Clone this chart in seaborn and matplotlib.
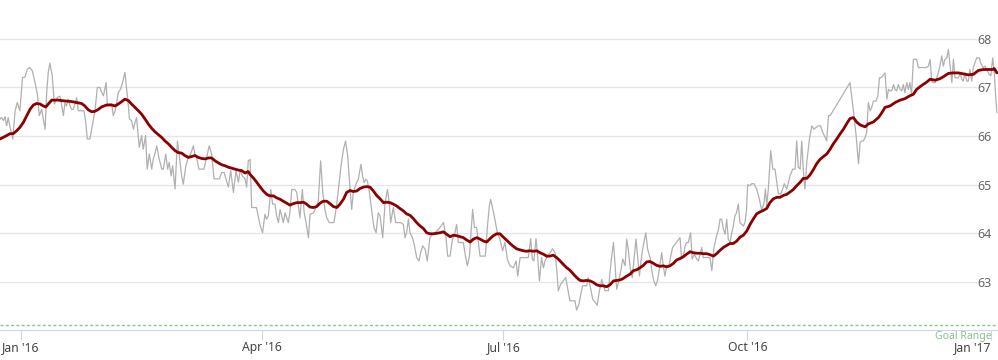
import matplotlib
matplotlib.use("Agg")
import matplotlib.pyplot as plt
import seaborn as sns
import pandas as pd
import numpy as np

# ---------------- data ----------------
# day offsets from 2016-01-01 and values
daily_day = [
    -7.8, -7.2, -6.5, -5.9, -5.3, -4.7, -4.0, -3.0, -2.1, -1.3, -0.3, 0.7, 1.6, 2.5, 3.5, 4.4, 5.4, 6.3, 7.0, 7.9,
    8.3, 9.2, 9.8, 10.4, 11.0, 11.9, 12.7, 13.3, 13.8, 14.8, 15.4, 16.1, 16.7, 17.3, 17.9, 18.6, 19.2, 19.8, 20.5, 21.1,
    21.7, 23.0, 23.9, 24.6, 25.1, 26.1, 27.1, 28.0, 28.9, 29.9, 30.5, 31.2, 32.2, 32.7, 33.4, 34.3, 34.9, 35.6, 36.2, 36.8,
    37.7, 38.4, 39.3, 39.9, 40.6, 41.0, 41.8, 42.5, 43.1, 43.7, 44.7, 45.6, 46.2, 47.1, 47.7, 48.5, 49.4, 50.0, 50.6, 51.3,
    52.1, 53.2, 53.8, 54.7, 55.4, 56.0, 56.7, 57.3, 58.2, 59.1, 59.8, 60.7, 61.3, 62.3, 63.2, 64.1, 65.1, 65.7, 66.3, 67.2,
    68.2, 69.1, 70.1, 71.1, 72.0, 72.9, 73.9, 74.9, 75.8, 76.7, 77.4, 78.3, 79.2, 80.2, 81.2, 82.1, 82.7, 83.6, 84.6, 85.2,
    85.8,
    86.5, 87.1, 88.9, 90.2, 91.2, 92.1, 92.7, 93.4, 94.3, 95.0, 95.9, 96.5, 97.2, 97.8, 98.4, 99.0, 99.7, 100.3, 100.9, 101.5,
    102.2, 103.4, 104.1, 104.7, 105.3, 106.2, 106.9, 107.6, 108.5, 109.1, 110.4, 111.0, 112.2, 113.1, 113.9, 114.7, 115.4, 116.3, 117.3, 118.1,
    118.9, 119.8, 120.7, 121.7, 122.5, 123.3, 124.2, 124.8, 125.4, 126.4, 127.3, 128.3, 128.9, 129.5, 130.1, 130.7, 131.5, 132.3, 133.2, 134.0,
    134.8, 135.5, 136.5, 137.4, 138.3, 139.0, 139.5, 140.5, 141.4, 142.4, 143.3, 144.3, 144.9, 145.5, 146.2, 146.8, 147.7, 148.4, 149.3, 150.2,
    150.8, 151.6, 152.5, 153.3, 154.3, 155.3, 156.2, 157.5, 158.5, 159.4, 160.3, 161.0, 161.9, 162.8, 163.5, 164.4, 165.0, 165.9, 166.9, 167.7,
    168.4, 169.2, 169.8, 170.4, 171.1, 171.9, 172.6, 173.2, 174.5, 175.2, 176.0, 176.7, 177.2, 178.0, 178.8, 179.7, 180.7,
    181.7, 182.6, 183.5, 184.5, 185.8, 186.8, 187.4, 188.3, 189.3, 190.5, 191.4, 192.3, 192.9, 193.5, 194.3, 194.9, 195.6, 196.4, 197.1, 197.7,
    198.6, 199.6, 200.5, 201.5, 202.1, 202.7, 203.6, 204.6, 205.5, 206.3, 207.1, 208.1, 209.0, 209.6, 210.5, 211.2, 211.9, 212.8, 213.4, 214.0,
    214.7, 215.7, 216.6, 217.4, 218.1, 219.1, 219.7, 220.3, 221.6, 222.2, 222.8, 223.5, 224.1, 224.7, 225.4, 226.3, 227.0, 227.9, 228.5, 229.1,
    229.8, 230.6, 231.4, 232.0, 232.6, 233.3, 233.9, 234.5, 235.0, 235.7, 236.4, 237.3, 237.9, 238.6, 239.4, 240.1, 240.8, 241.7, 242.3, 242.9,
    243.6, 244.5, 245.1, 245.8, 246.7, 247.6, 248.6, 249.2, 249.9, 250.5, 251.1, 251.7, 252.6, 253.2, 254.0, 254.9, 255.5, 256.2, 256.8, 257.4,
    258.4, 259.9, 260.6, 261.4, 262.4, 263.1, 263.7, 264.3, 265.0, 265.6, 266.2, 266.8, 267.5, 268.1, 268.7, 269.3, 269.9, 270.6, 271.2, 272.5,
    273.1, 273.7, 274.1,
    275.0, 275.6, 276.5, 277.5, 278.5, 279.4, 280.3, 280.8, 281.3, 281.9, 282.8, 283.6, 284.4, 285.1, 285.7, 286.6, 287.3, 287.9, 288.8, 289.5,
    290.1, 291.1, 292.0, 292.6, 293.2, 293.9, 294.5, 295.1, 295.7, 296.4, 297.4, 298.3, 299.1, 299.9, 300.8, 301.6, 302.4, 303.3, 303.9, 304.6,
    305.2, 312.7, 313.3, 314.2, 315.0, 315.9, 316.5, 317.1, 317.7, 318.4, 319.0, 319.6, 320.3, 320.9, 321.5, 322.5, 323.2, 323.8, 324.4, 325.1,
    325.9, 326.6, 327.2, 327.8, 328.4, 329.1, 329.7, 330.3, 330.9, 331.6, 332.2, 332.8, 333.4, 334.1, 334.7, 335.3, 335.9, 336.6, 337.2, 337.8,
    338.5, 339.4, 340.4, 341.4, 342.3, 342.9, 343.5, 344.1, 344.8, 345.4, 346.0, 346.6, 347.3, 347.9, 348.5, 349.2, 349.8, 350.4, 351.1, 351.7,
    352.3, 352.9, 353.6, 354.2, 354.8, 355.4, 356.1, 356.7, 357.3, 357.9, 358.6, 359.2, 359.8, 360.5, 361.5, 361.9, 362.9, 363.6, 364.2, 365.2,
    365.8, 366.5, 367.1, 367.6, 368.1,
]
daily_value = [
    66.35, 66.38, 66.32, 66.40, 66.21, 66.38, 66.18, 65.94, 66.52, 66.69, 66.52, 67.21, 67.21, 67.38, 67.41, 67.34, 67.10, 66.86, 66.42, 66.55,
    66.42, 66.14, 66.90, 67.31, 67.50, 67.24, 66.66, 66.73, 66.79, 66.82, 66.66, 66.42, 66.69, 66.62, 66.76, 66.62, 66.55, 66.55, 66.66, 66.79,
    66.52, 66.52, 66.52, 66.25, 65.94, 65.94, 66.25, 66.52, 67.00, 67.00, 66.90, 66.83, 67.10, 66.62, 66.66, 66.66, 66.42, 66.52, 66.69, 66.90,
    66.97, 67.10, 67.31, 67.00, 66.62, 66.35, 66.32, 66.14, 66.28, 66.38, 65.77, 66.01, 65.73, 66.01, 65.32, 65.63, 65.32, 65.53, 65.63, 65.80,
    65.56, 65.32, 65.32, 65.63, 65.32, 65.46, 65.18, 65.39, 64.91, 65.90, 65.60, 65.18, 65.01, 65.39, 65.56, 65.63, 65.80, 65.63, 65.56, 65.32,
    65.32, 65.32, 65.56, 65.80, 65.63, 65.12, 65.12, 65.12, 65.25, 65.25, 65.12, 64.95, 65.29, 64.84, 65.29, 65.05, 65.29, 65.18, 65.12, 64.95,
    65.49,
    65.52, 64.53, 64.53, 64.18, 64.01, 64.39, 64.29, 64.36, 64.90, 64.60, 64.60, 64.36, 64.22, 64.49, 64.36, 64.22, 64.42, 64.32, 64.22, 64.42,
    64.90, 64.90, 64.84, 64.56, 64.32, 64.90, 64.42, 64.22, 63.91, 64.39, 64.42, 64.49, 64.66, 65.49, 64.84, 64.49, 64.32, 64.22, 64.22, 64.22,
    64.49, 64.90, 65.35, 65.73, 65.90, 65.59, 64.90, 64.49, 64.84, 65.01, 65.11, 65.42, 65.18, 65.04, 65.11, 65.08, 64.84, 64.49, 64.12, 64.01,
    64.42, 64.36, 63.91, 64.63, 64.90, 64.60, 64.22, 64.53, 64.22, 64.22, 64.22, 64.18, 63.91, 64.01, 64.29, 64.01, 63.91, 63.77, 63.50, 63.43,
    63.60, 63.74, 63.67, 63.43, 63.91, 63.98, 64.01, 64.08, 64.15, 64.22, 63.95, 63.53, 63.53, 63.88, 63.95, 64.18, 63.81, 63.81, 63.81, 63.53,
    63.33, 63.53, 64.01, 64.49, 64.12, 64.12, 63.81, 63.53, 63.53, 63.53, 64.15, 64.56, 64.70, 64.49, 64.29, 64.01, 63.88,
    63.64, 63.81, 63.47, 63.33, 63.29, 63.43, 63.12, 63.50, 63.50, 63.50, 63.50, 63.89, 63.47, 63.43, 63.89, 63.53, 63.02, 63.50, 63.29, 63.43,
    63.53, 63.60, 63.68, 63.60, 63.26, 62.82, 62.95, 63.02, 63.09, 62.85, 62.61, 62.61, 62.61, 62.42, 62.54, 62.75, 62.92, 62.92, 62.92, 63.09,
    62.92, 62.64, 62.58, 62.52, 62.78, 63.05, 62.92, 62.82, 62.82, 63.19, 63.50, 63.81, 63.36, 62.85, 62.99, 63.23, 63.47, 63.33, 63.88, 63.67,
    63.29, 63.09, 63.53, 63.88, 63.53, 63.12, 63.43, 63.67, 63.81, 64.01, 63.67, 63.50, 63.26, 63.05, 62.92, 63.02, 63.26, 63.60, 63.33, 63.12,
    63.33, 63.33, 63.53, 63.71, 63.77, 63.84, 63.91, 63.47, 63.53, 63.74, 63.81, 63.81, 64.01, 63.47, 63.57, 63.47, 63.43, 63.57, 63.71, 63.50,
    63.50, 63.50, 63.23, 63.71, 63.95, 64.08, 64.29, 64.29, 64.08, 63.98, 64.29, 63.88, 63.81, 64.01, 64.15, 64.36, 64.42, 64.60, 64.22, 64.15,
    64.22, 64.49, 65.00,
    64.98, 65.02, 65.02, 64.91, 64.71, 64.47, 64.64, 64.91, 64.57, 64.91, 65.70, 65.32, 65.32, 65.05, 64.81, 64.81, 64.91, 65.02, 64.91, 65.05,
    65.19, 65.32, 65.32, 65.90, 65.36, 65.32, 65.90, 65.29, 64.91, 65.46, 65.94, 66.21, 66.14, 66.18, 66.21, 66.21, 66.08, 65.97, 65.90, 66.42,
    66.42, 67.10, 66.83, 66.42, 66.01, 65.43, 65.87, 65.90, 65.90, 65.97, 66.08, 66.69, 66.52, 66.59, 66.72, 66.72, 66.83, 67.20, 67.20, 67.24,
    67.30, 66.76, 66.96, 66.93, 66.93, 67.06, 66.96, 66.93, 67.06, 66.96, 66.93, 67.06, 66.89, 67.10, 66.96, 67.10, 66.86, 67.58, 67.58, 67.58,
    67.41, 67.41, 67.41, 67.41, 67.44, 67.58, 67.13, 67.10, 67.10, 67.20, 67.30, 67.44, 67.65, 67.44, 67.58, 67.61, 67.78, 67.47, 67.10, 67.58,
    67.20, 67.20, 67.20, 67.30, 67.17, 67.13, 67.30, 67.13, 67.13, 67.37, 67.13, 67.41, 67.51, 67.61, 67.61, 67.51, 67.41, 67.44, 67.37, 67.27,
    67.24, 67.61, 67.30, 66.83, 66.48,
]

trend_day = [
    -7.8, -5.3, -4.0, -2.8, -1.5, -0.3, 1.0, 2.3, 3.5, 4.8, 6.0, 7.3, 8.5, 9.5, 10.4, 11.7, 12.9, 14.2, 15.4, 17.3,
    19.2, 21.1, 23.0, 24.2, 25.5, 26.8, 28.0, 29.3, 30.5, 32.4, 34.3, 35.6, 36.8, 38.1, 39.3, 40.6, 41.8, 43.1, 44.4, 45.6,
    46.9, 48.1, 49.4, 50.6, 51.9, 53.2, 54.4, 55.7, 56.9, 58.2, 59.4, 60.7, 61.9, 63.2, 64.5, 65.7, 67.0, 68.2, 69.5, 70.8,
    72.0, 73.3, 74.5, 75.8, 77.0, 78.3, 79.5, 80.8, 82.1, 83.3, 84.6, 85.8,
    86.5, 87.7, 89.0, 90.2, 91.5, 92.8, 94.0, 95.3, 96.5, 97.8, 99.0, 100.3, 101.5, 102.8, 104.1, 105.3, 106.6, 107.8, 109.1, 110.4,
    111.6, 112.9, 114.1, 115.4, 116.6, 117.9, 119.2, 120.4, 121.7, 122.9, 124.2, 125.4, 126.7, 127.9, 129.2, 130.5, 131.7, 133.0, 134.2, 135.5,
    136.8, 138.0, 139.3, 140.5, 141.8, 143.0, 144.3, 145.5, 146.8, 148.1, 149.3, 150.6, 151.8, 153.1, 154.4, 155.6, 156.9, 158.1, 159.4, 160.6,
    161.9, 163.2, 164.4, 165.7, 166.9, 168.2, 169.5, 170.7, 172.0, 173.2, 174.5, 175.7, 177.0, 178.2, 179.5, 180.7,
    182.0, 183.2, 184.5, 185.8, 187.0, 188.3, 189.5, 190.8, 192.0, 193.3, 194.6, 195.8, 197.1, 198.3, 199.6, 200.8, 202.1, 203.4, 204.6, 205.9,
    207.1, 208.4, 209.6, 210.9, 212.2, 213.4, 214.7, 215.9, 217.2, 218.4, 219.7, 220.9, 222.2, 223.5, 224.7, 226.0, 227.2, 228.5, 229.8, 231.0,
    232.3, 233.5, 234.8, 236.0, 237.3, 238.6, 239.8, 241.1, 242.3, 243.6, 244.8, 246.1, 247.3, 248.6, 249.9, 251.1, 252.4, 253.6, 254.9, 256.1,
    257.4, 258.7, 259.9, 261.2, 262.4, 263.7, 265.0, 266.2, 267.5, 268.7, 270.0, 271.2, 272.5, 273.8, 275.0,
    276.3, 277.5, 278.8, 280.0, 281.3, 282.5, 283.8, 285.1, 286.3, 287.6, 288.8, 290.1, 291.3, 292.6, 293.9, 295.1, 296.4, 297.6, 298.9, 300.1,
    301.4, 302.7, 303.9, 305.2, 306.4, 307.7, 308.9, 310.2, 311.5, 312.7, 314.0, 315.2, 316.5, 318.4, 319.6, 321.5, 323.4, 324.7, 325.9, 327.8,
    329.7, 331.6, 333.4, 335.3, 336.6, 337.8, 339.7, 341.6, 342.9, 344.8, 346.6, 347.9, 349.8, 351.7, 353.6, 355.4, 357.3, 359.2, 361.1, 363.0,
    364.9, 366.5, 367.1, 368.1,
]
trend_value = [
    65.94, 66.01, 66.05, 66.05, 66.11, 66.18, 66.28, 66.42, 66.55, 66.64, 66.67, 66.66, 66.62, 66.60, 66.66, 66.74, 66.74, 66.74, 66.73, 66.72,
    66.71, 66.69, 66.67, 66.62, 66.54, 66.50, 66.51, 66.55, 66.60, 66.64, 66.64, 66.62, 66.66, 66.71, 66.76, 66.73, 66.66, 66.59, 66.52, 66.45,
    66.35, 66.25, 66.16, 66.09, 66.03, 65.97, 65.90, 65.84, 65.77, 65.70, 65.66, 65.65, 65.60, 65.56, 65.58, 65.60, 65.56, 65.54, 65.53, 65.55,
    65.55, 65.49, 65.45, 65.41, 65.39, 65.36, 65.34, 65.32, 65.30, 65.29, 65.24, 65.27,
    65.21, 65.14, 65.05, 64.96, 64.87, 64.80, 64.77, 64.77, 64.73, 64.70, 64.66, 64.62, 64.58, 64.61, 64.63, 64.63, 64.64, 64.60, 64.54, 64.53,
    64.55, 64.62, 64.66, 64.66, 64.61, 64.55, 64.53, 64.60, 64.70, 64.84, 64.88, 64.86, 64.87, 64.92, 64.95, 64.96, 64.95, 64.87, 64.78, 64.71,
    64.63, 64.64, 64.63, 64.60, 64.56, 64.51, 64.46, 64.40, 64.37, 64.30, 64.22, 64.15, 64.10, 64.01, 63.99, 63.99, 64.00, 64.01, 64.03, 63.98,
    63.93, 63.96, 63.95, 63.93, 63.91, 63.86, 63.82, 63.88, 63.91, 63.88, 63.84, 63.82, 63.89, 63.95, 63.99, 63.99,
    63.92, 63.86, 63.79, 63.73, 63.68, 63.66, 63.64, 63.63, 63.64, 63.63, 63.64, 63.60, 63.57, 63.53, 63.53, 63.55, 63.50, 63.43, 63.36, 63.29,
    63.24, 63.16, 63.09, 63.03, 63.02, 63.03, 63.02, 62.99, 62.94, 62.92, 62.92, 62.90, 62.94, 63.02, 63.03, 63.04, 63.07, 63.12, 63.16, 63.23,
    63.25, 63.29, 63.34, 63.41, 63.42, 63.38, 63.34, 63.32, 63.33, 63.31, 63.33, 63.38, 63.45, 63.48, 63.52, 63.57, 63.62, 63.60, 63.59, 63.59,
    63.58, 63.58, 63.56, 63.53, 63.58, 63.65, 63.71, 63.75, 63.79, 63.79, 63.84, 63.92, 63.96, 64.05, 64.18,
    64.30, 64.40, 64.44, 64.47, 64.51, 64.63, 64.71, 64.74, 64.74, 64.78, 64.80, 64.85, 64.90, 64.98, 65.05, 65.13, 65.13, 65.20, 65.31, 65.43,
    65.52, 65.58, 65.63, 65.73, 65.84, 65.94, 66.04, 66.14, 66.26, 66.36, 66.38, 66.29, 66.23, 66.19, 66.25, 66.29, 66.38, 66.48, 66.59, 66.62,
    66.69, 66.74, 66.77, 66.83, 66.86, 66.96, 67.04, 67.11, 67.17, 67.15, 67.18, 67.22, 67.29, 67.30, 67.30, 67.28, 67.26, 67.27, 67.35, 67.37,
    67.37, 67.37, 67.39, 67.30,
]

x_tick_dates = ["2016-01-01", "2016-04-01", "2016-07-01", "2016-10-01", "2017-01-01"]
x_tick_labels = ["Jan '16", "Apr '16", "Jul '16", "Oct '16", "Jan '17"]
y_ticks = [63, 64, 65, 66, 67, 68]
goal_line_value = 62.11
goal_label = "Goal Range"

# ---------------- build frames ----------------
base = pd.Timestamp("2016-01-01")
daily = pd.DataFrame({"date": base + pd.to_timedelta(daily_day, unit="D"), "value": daily_value})
trend = pd.DataFrame({"date": base + pd.to_timedelta(trend_day, unit="D"), "value": trend_value})

# ---------------- style ----------------
sns.set_theme(style="white")
plt.rcParams["font.family"] = ["Noto Sans", "DejaVu Sans"]

fig = plt.figure(figsize=(9.98, 3.6), dpi=100)
ax = fig.add_axes([0.0, 30 / 360, 1.0, 330 / 360])

# gridlines (stop before right-side labels)
for yv in y_ticks:
    ax.axhline(yv, xmin=0, xmax=0.979, color="#e6e6e6", lw=1.0, zorder=0)

ax.axhline(goal_line_value, color="#8cc88c", lw=1.0, linestyle=(0, (2.2, 1.6)), zorder=1)

sns.lineplot(data=daily, x="date", y="value", ax=ax, color="#b0b0b0", lw=0.9,
             estimator=None, sort=False, zorder=2)
sns.lineplot(data=trend, x="date", y="value", ax=ax, color="#8b0000", lw=2.0,
             estimator=None, sort=False, zorder=3)

ax.set_xlim(base + pd.Timedelta(days=-7.8), base + pd.Timedelta(days=368.5))
ax.set_ylim(62.01, 68.80)
ax.set_xlabel("")
ax.set_ylabel("")

# x ticks
ax.set_xticks(pd.to_datetime(x_tick_dates))
ax.set_xticklabels(x_tick_labels)
ax.tick_params(axis="x", which="major", length=7, width=0.8, color="#ccd6eb",
               labelsize=8.8, labelcolor="#444444", pad=1, bottom=True)
lbls = ax.get_xticklabels()
lbls[-1].set_horizontalalignment("right")

# y ticks on right, inside the plot
ax.yaxis.tick_right()
ax.set_yticks(y_ticks)
ax.set_yticklabels([str(v) for v in y_ticks])
ax.tick_params(axis="y", length=0, labelsize=9, labelcolor="#666666", pad=-15)
ax.grid(False)

for side in ["top", "left", "right"]:
    ax.spines[side].set_visible(False)
ax.spines["bottom"].set_color("#ccd6eb")
ax.spines["bottom"].set_linewidth(0.8)

fig.text(992 / 998, 1 - 337 / 360, goal_label, ha="right", va="center",
         fontsize=7.5, color="#8fbc8f")

fig.savefig("out.png", dpi=100)
